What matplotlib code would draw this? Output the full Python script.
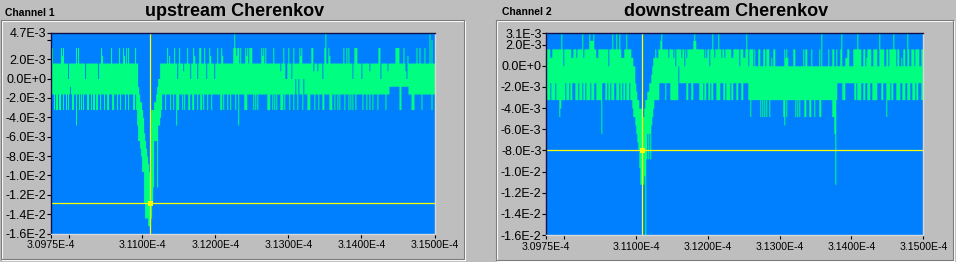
import numpy as np
import matplotlib.pyplot as plt
from matplotlib.patches import Rectangle

# scope traces, one pixel column at a time
# each char is the max (hi) or min (lo) ADC level of that column:
#   level = 6 - int(c, 36), one level = 0.8E-3
ADC_STEP = 0.8e-3
T_START, T_END = 3.0975e-4, 3.15e-4

ch1_hi = (
    # 3.0975E-4 .. start of the dip
    "22" "44444444" "232" "4444" "6" "4444444" "242" "444444" "6" "444444444444"
    "6" "44" "23" "44444444" "2" "4444444" "2" "444" "234242" "444444" "2" "44"
    # dip
    "7899ABDEFGHII" "AAA99876644"
    # after the dip
    "44444" "2" "4" "3" "4444" "2" "4464" "2" "444" "5" "444" "2" "44644" "2" "3"
    "4464" "22" "444" "2" "4644" "2" "3" "444644" "2" "444" "23" "4444444444" "2"
    "0" "2322" "4" "2" "4444" "232" "4" "222" "444444444" "232" "4" "2" "4444444"
    "2" "444444" "5" "44" "2" "4" "66" "4" "2" "44" "64" "2" "44444" "232"
    "444444444" "22" "5" "444" "5" "4444" "6" "4" "2" "0" "44" "23" "4444444444444"
    "2" "44" "2" "4" "2" "444" "6" "4" "222" "4444" "6" "4444444" "5" "44444444"
    "22" "64" "44444" "5" "4444444" "2222" "4444" "2" "4" "56" "3" "44444444" "2"
    "44" "2" "4444" "2" "4444" "0" "4" "1" "444"
)
ch1_lo = (
    "A" "88" "A" "8" "AA" "8" "AA" "88" "A" "88" "A" "8" "A" "8" "7" "8" "AA" "88"
    "C" "88" "A" "8" "A" "8" "A" "888" "AA" "88" "A" "8" "AA" "8" "AA" "88" "A"
    "888" "A" "88" "AA" "888" "AA" "888" "A" "88" "A" "8888" "A" "88" "A" "8888"
    "AA" "8AC"
    "EEFGIIMOOOPPP" "OMKEEEKCCBA"
    "888" "A" "8888" "A" "88" "A" "88" "C" "A" "A" "888" "A" "8" "A" "888" "AA" "88"
    "AA" "888" "A" "88" "AA" "8" "A" "888" "A" "888" "A" "88888888" "AA" "8" "A"
    "888" "A" "88" "A" "8888" "A" "88" "C" "88888" "AAA" "888888" "A" "8" "A" "8"
    "A" "888888888" "AAA" "88" "A" "8" "A" "8" "A" "888" "AAA" "8" "A" "8888" "A"
    "888" "A" "8" "6" "8" "A" "6" "888" "A" "6" "888" "AAA" "8888" "A" "888" "A"
    "888" "AA" "88888" "AAA" "88" "A" "88" "A" "8" "A" "8888" "A" "888" "A" "8" "A"
    "8" "A" "88" "A" "888888" "A" "888" "A" "88" "A" "88" "A" "8888" "A" "8888888"
    "A" "888" "7777777777" "AA" "7777777" "888" "AAA" "8888888" "A" "888888888"
    "A" "888"
)

ch2_hi = (
    "4444" "55" "444444444" "2" "4" "6" "4444444" "55" "444" "5" "44444" "2" "5"
    "44444" "2" "333" "2" "44" "55" "4444444444" "6" "444" "2" "444" "2" "44" "2"
    "4" "555" "44" "2" "444"
    "45566" "89AABBBCCBA" "A998876554"
    "5544" "3" "2" "444444" "5" "4444" "5" "4" "6" "44444" "5" "44" "6" "4" "5"
    "444444" "323" "44444444" "5" "4" "5" "44" "6" "44" "2" "4" "5" "444" "2" "44"
    "5" "44" "5" "444444" "55" "444444" "6" "444" "55" "4" "2" "4"
    "6" "4444" "6" "4" "666" "44" "666" "44" "6" "444" "6" "656" "44" "666666666"
    "4545" "66666" "44" "66666666" "4" "6" "44" "6666" "4" "6666666" "4" "6" "2"
    "666666" "4" "666" "44" "66"
    "4" "666" "4" "2" "666" "55" "44" "6666" "4444" "2" "444" "66" "44" "65" "4444"
    "66" "4444" "66" "2" "4444" "66" "44" "6" "4444" "2" "44" "6" "44" "6656" "44"
    "66" "2" "4" "66" "444" "6" "4444" "66" "444"
)
ch2_lo = (
    "AAAA" "8" "AAAA" "8" "AAA" "C" "B" "AAAA" "8" "AAA" "8" "AA" "888" "AAA8AAA8AA"
    "8" "AAAA" "8" "AAA" "88" "AAAAA" "E" "888" "AA" "8" "AA8AAA" "88" "AAA8AA" "8"
    "AA8AAA" "8"
    "AABCCDEFGIKKKKJQHEHEHDCBAA"
    "AA" "A" "888888" "A" "8888" "AAAAAAAA" "6" "8888888" "AA" "888" "AA" "888888"
    "AAAA" "8" "AA" "88" "AA" "8" "AA" "888" "AAAA" "888" "AA" "8" "AAAA" "8" "AA"
    "888" "AA" "888" "AA" "88888"
    "AA" "C" "AAAAAAAAA" "C" "A" "C" "A" "C" "A" "C" "AA" "C" "AAAAAAAAAAAAA" "C"
    "D" "A" "C" "AAAAAAAA" "C" "A" "C" "A" "C" "AAAA" "CC" "AAA" "CC" "AAA" "C"
    "AAAA" "CC" "AAAAAAAAAAA" "CC" "E" "K"
    "A" "88888" "AAA" "888888888" "AA" "8" "AAAA" "88" "AA" "88" "AAA" "88" "AAAAA"
    "8888" "AA" "888" "C" "AAA" "8" "AA" "888" "AAAA" "88" "AAA" "88" "AAA" "88"
    "AAA" "8" "AA" "888" "AAA"
)

ch1_ylim = (-1.6e-2, 4.7e-3)
ch2_ylim = (-1.6e-2, 3.1e-3)
y_common = [0.0, -2e-3, -4e-3, -6e-3, -8e-3, -1.0e-2, -1.2e-2, -1.4e-2, -1.6e-2]
y_common_labels = ['0.0E+0', '-2.0E-3', '-4.0E-3', '-6.0E-3', '-8.0E-3',
                   '-1.0E-2', '-1.2E-2', '-1.4E-2', '-1.6E-2']
ch1_yticks = [4.7e-3, 2e-3] + y_common
ch1_ylabels = ['4.7E-3', '2.0E-3'] + y_common_labels
ch2_yticks = [3.1e-3, 2e-3] + y_common
ch2_ylabels = ['3.1E-3', '2.0E-3'] + y_common_labels
xticks = [3.0975e-4, 3.11e-4, 3.12e-4, 3.13e-4, 3.14e-4, 3.15e-4]
xlabels = ['3.0975E-4', '3.1100E-4', '3.1200E-4', '3.1300E-4', '3.1400E-4', '3.1500E-4']

ch1_cursor = (3.1111e-4, -1.28e-2)
ch2_cursor = (3.1108e-4, -7.95e-3)

BG = '#bebebe'
BLUE = '#0080ff'
GREEN = '#00ff80'
YELLOW = '#ffff00'
W, H = 956, 262

plt.rcParams['font.family'] = ['Liberation Sans', 'DejaVu Sans']


def levels(s):
    return np.array([6 - int(c, 36) for c in s]) * ADC_STEP


def px_box(x0, y0, x1, y1):
    # pixel box (top-left origin) -> figure fraction rect
    return [x0 / W, 1 - y1 / H, (x1 - x0) / W, (y1 - y0) / H]


def draw_channel(ax, hi_s, lo_s, ylim, yticks, ylabels, cursor, minor_y=None):
    n = min(len(hi_s), len(lo_s))
    hi = levels(hi_s[:n])
    lo = levels(lo_s[:n])
    t = np.linspace(T_START, T_END, n)

    ax.set_facecolor(BLUE)
    ax.fill_between(t, lo, hi, step='mid', color=GREEN, lw=0, antialiased=False)

    cx, cy = cursor
    ax.axvline(cx, color=YELLOW, lw=0.9)
    ax.axhline(cy, color=YELLOW, lw=0.9)
    ax.plot([cx], [cy], marker='s', ms=3.4, mfc='none', mec=YELLOW, mew=0.7)
    ax.plot([cx], [cy], marker='x', ms=3.0, mec=YELLOW, mew=0.7)

    ax.set_xlim(T_START, T_END)
    ax.set_ylim(*ylim)
    ax.set_xticks(xticks, xlabels, fontsize=7.6)
    ax.set_xticks([3.1e-4], minor=True)
    ax.set_yticks(yticks, ylabels, fontsize=9)
    if minor_y is not None:
        ax.set_yticks(minor_y, minor=True)
    ax.tick_params(axis='both', which='both', direction='out', length=3,
                   width=0.8, color='black', labelcolor='black')
    ax.tick_params(axis='y', pad=0.5)
    ax.tick_params(axis='x', pad=2)

    for side in ['top', 'left']:
        ax.spines[side].set_color('#10104a')
        ax.spines[side].set_linewidth(1)
    for side in ['bottom', 'right']:
        ax.spines[side].set_color('#d8d8d8')
        ax.spines[side].set_linewidth(1)


fig = plt.figure(figsize=(W / 100, H / 100), dpi=100, facecolor=BG)

# etched panel frames
for (x0, y0, x1, y1) in [(0.5, 20, 464, 258.5), (496, 20, 953, 260)]:
    r = px_box(x0 + 1, y0 + 1, x1 + 1, y1 + 1)
    fig.add_artist(Rectangle(r[:2], r[2], r[3], transform=fig.transFigure,
                             fill=False, ec='white', lw=0.8))
    r = px_box(x0, y0, x1, y1)
    fig.add_artist(Rectangle(r[:2], r[2], r[3], transform=fig.transFigure,
                             fill=False, ec='#7c7c7c', lw=0.8))

ax1 = fig.add_axes(px_box(51, 33, 434.5, 233.5))
draw_channel(ax1, ch1_hi, ch1_lo, ch1_ylim, ch1_yticks, ch1_ylabels, ch1_cursor,
             minor_y=[4.0e-3])

ax2 = fig.add_axes(px_box(546.3, 33, 923.3, 235))
draw_channel(ax2, ch2_hi, ch2_lo, ch2_ylim, ch2_yticks, ch2_ylabels, ch2_cursor)

fig.text(5 / W, 1 - 15.7 / H, 'Channel 1', fontsize=7.5, weight='bold', va='baseline')
fig.text(234.7 / W, 1 - 15.7 / H, 'upstream Cherenkov', fontsize=13, weight='bold',
         ha='center', va='baseline')
fig.text(502 / W, 1 - 15.4 / H, 'Channel 2', fontsize=7.5, weight='bold', va='baseline')
fig.text(726.3 / W, 1 - 15.5 / H, 'downstream Cherenkov', fontsize=13, weight='bold',
         ha='center', va='baseline')

fig.savefig('out.png', dpi=100, facecolor=BG)
